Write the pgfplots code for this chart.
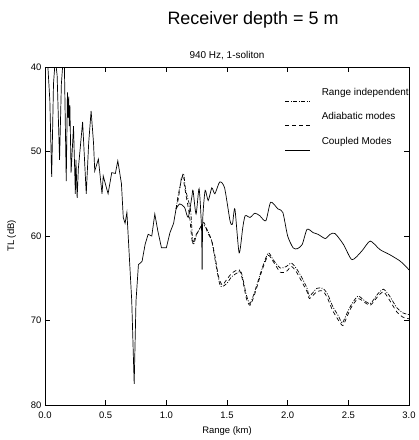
\documentclass[border=0pt]{standalone}
\usepackage{fontspec}
\setmainfont{Liberation Sans}
\usepackage{pgfplots}
\pgfplotsset{compat=1.18}

% part common to all three curves (before they split near 1.1 km)
\pgfplotstableread{
r TL
0.02 39
0.04 44
0.055 53
0.07 42
0.085 39
0.10 41
0.12 51
0.135 42
0.15 39
0.16 40
0.175 53.5
0.185 43
0.19 46
0.195 43.5
0.20 47
0.205 44.5
0.215 52.5
0.235 47
0.25 55
0.255 51
0.265 55.5
0.275 52
0.31 46.5
0.34 55
0.36 49
0.38 45.2
0.40 49
0.41 52.3
0.44 50.9
0.47 55
0.48 52.9
0.52 55
0.55 52.5
0.58 52.6
0.60 51.1
0.63 53.8
0.645 57.8
0.66 58.5
0.675 57.2
0.685 59.8
0.715 67.7
0.735 77.5
0.75 67.7
0.77 63.4
0.80 63
0.825 61
0.85 59.8
0.88 60
0.905 57.4
0.93 59.4
0.96 61.4
1.00 61.4
1.03 59.6
1.06 58.5
1.08 56.8
}\common

\pgfplotstableread{
r TL
1.08 56.8
1.11 56.2
1.15 56.6
1.18 57.8
1.21 55.4
1.22 54.6
1.245 57.4
1.27 54.4
1.29 59
1.295 64
1.30 58
1.32 54.6
1.345 55.8
1.375 54.3
1.40 55
1.44 53.6
1.48 54.3
1.525 58.2
1.545 58.6
1.565 56.8
1.60 62
1.63 59
1.65 57.6
1.69 57.8
1.73 57.3
1.77 57.6
1.82 58.2
1.86 56
1.92 56.8
1.96 57.2
2.00 60
2.045 61.4
2.08 61.5
2.12 61
2.16 59.2
2.21 59.6
2.25 59.8
2.31 60.3
2.35 59.8
2.39 59.7
2.46 61
2.53 62.8
2.61 61.8
2.68 60.6
2.76 61.6
2.84 62.2
2.93 63
3.00 64
}\coupled

\pgfplotstableread{
r TL
1.08 56.8
1.10 55
1.14 52.6
1.16 54.6
1.20 57
1.22 61
1.25 59.8
1.29 58.8
1.30 58.6
1.335 59.2
1.375 60.6
1.39 61.8
1.41 63.5
1.44 65.7
1.46 66
1.50 65.6
1.54 64.8
1.61 64.2
1.63 65
1.66 67
1.69 68
1.73 66.5
1.79 63.8
1.84 62
1.88 62.8
1.94 63.8
1.99 63.6
2.03 63.2
2.07 63.8
2.12 65
2.16 66.2
2.18 67.1
2.24 66.2
2.29 66.2
2.33 66.9
2.37 68.3
2.42 69.5
2.45 70.3
2.49 69.1
2.53 68
2.58 67.1
2.62 67.5
2.68 68
2.74 66.9
2.79 66.3
2.84 67.1
2.90 68.5
2.95 69.1
3.00 69.3
}\rangeind

\pgfplotstableread{
r TL
1.08 56.8
1.10 55.5
1.13 52.8
1.16 55
1.19 57.5
1.215 60.8
1.24 60
1.28 59
1.31 58.4
1.34 59.6
1.37 60.4
1.40 62.3
1.43 64.8
1.46 65.8
1.49 65.3
1.54 64.4
1.60 64
1.63 65.3
1.66 67.4
1.69 68.2
1.73 66.8
1.79 64
1.84 62.3
1.88 63
1.94 64.3
1.99 64.2
2.03 63.6
2.07 64.2
2.12 65.5
2.16 66.6
2.18 67.4
2.24 66.6
2.29 66.5
2.33 67.4
2.37 68.8
2.42 70
2.455 70.6
2.49 69.5
2.53 68.3
2.58 67.4
2.62 67.7
2.68 68.2
2.74 67.2
2.79 66.6
2.84 67.6
2.90 69
2.95 69.6
3.00 69.8
}\adiabatic

\begin{document}
\begin{tikzpicture}
\path[use as bounding box] (-45bp,-35bp) rectangle (374bp,405bp);
\begin{axis}[
    at={(0,0)}, anchor=south west,
    scale only axis,
    width=364bp, height=338bp,
    xmin=0, xmax=3,
    ymin=40, ymax=80,
    y dir=reverse,
    xtick={0,0.5,1,1.5,2,2.5,3},
    xticklabels={0.0,0.5,1.0,1.5,2.0,2.5,3.0},
    ytick={40,50,60,70,80},
    /pgf/number format/assume math mode=true,
    tick label style={font=\fontsize{9.5}{10}\selectfont},
    xticklabel style={yshift=-3bp},
    major tick length=5bp,
    tick style={black, line width=0.6pt},
    axis line style={line width=0.9pt},
    xlabel={Range (km)},
    ylabel={TL (dB)},
    label style={font=\fontsize{9.5}{10}\selectfont},
    xlabel style={yshift=-2bp},
    ylabel style={yshift=8bp},
    title={940 Hz, 1-soliton},
    title style={font=\fontsize{10}{11}\selectfont, at={(0.5,1)}, anchor=south, inner sep=1.5bp},
    legend style={draw=none, fill=none, at={(0.659,0.945)}, anchor=north west,
        font=\fontsize{10}{11}\selectfont, row sep=9bp, inner sep=0pt,
        /tikz/every odd column/.append style={column sep=9bp}},
    legend cell align=left,
    legend image code/.code={\draw[#1] (0bp,-9bp) -- (25bp,-9bp);},
]
\addplot[black, line width=0.7pt, smooth, tension=0.4, dash pattern=on 4pt off 1.5pt on 1pt off 1.5pt] table[x=r,y=TL] {\rangeind};
\addlegendentry{Range independent}
\addplot[black, line width=0.7pt, smooth, tension=0.4, dash pattern=on 4pt off 3pt] table[x=r,y=TL] {\adiabatic};
\addlegendentry{Adiabatic modes}
\addplot[black, line width=0.7pt, smooth, tension=0.4] table[x=r,y=TL] {\coupled};
\addlegendentry{Coupled Modes}
\addplot[black, line width=0.7pt, forget plot] table[x=r,y=TL] {\common};
\end{axis}
\node[font=\fontsize{18}{20}\selectfont] at (208bp,385bp) {Receiver depth = 5 m};
\end{tikzpicture}
\end{document}
